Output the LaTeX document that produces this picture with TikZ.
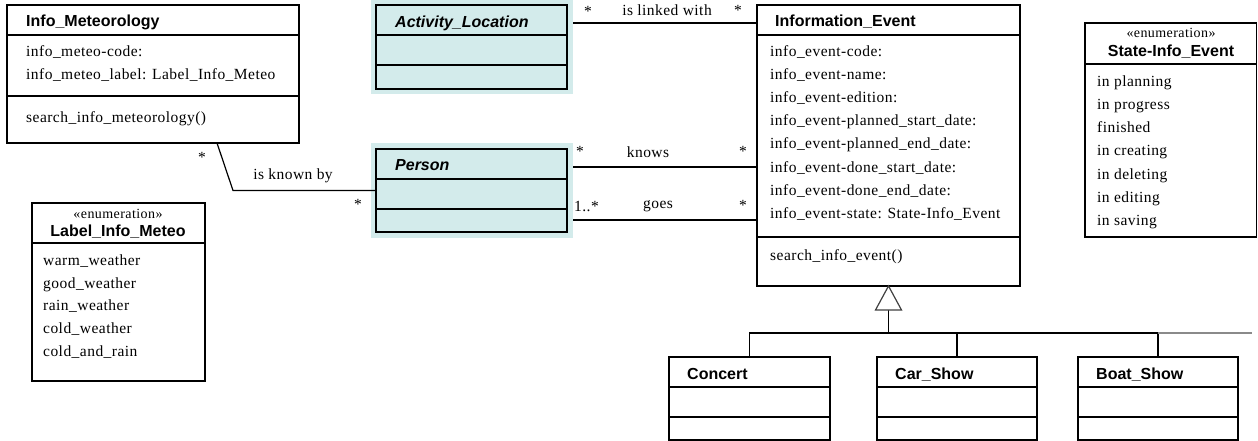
\documentclass[tikz,border=0pt]{standalone}
\usepackage{fontspec}
\setmainfont{Liberation Serif}
\newfontfamily\bodyf[LetterSpace=3]{Liberation Serif}
\newfontfamily\titlef{Liberation Sans}
\usetikzlibrary{calc}
\definecolor{clsbg}{HTML}{D3EBEB}
\definecolor{linegray}{HTML}{8A8A8A}
\tikzset{
  cls/.style={draw, line width=1.2pt, rectangle, anchor=north west, inner sep=0pt, outer sep=0pt},
  bgbox/.style={fill=clsbg, draw=none, rectangle, anchor=north west, inner sep=0pt, outer sep=0pt},
  ttl/.style={anchor=base west, inner sep=0pt, font=\titlef\bfseries\fontsize{16}{18}\selectfont},
  ttlc/.style={anchor=base, inner sep=0pt, font=\titlef\bfseries\fontsize{16}{18}\selectfont},
  ttli/.style={anchor=base west, inner sep=0pt, font=\titlef\bfseries\itshape\fontsize{16}{18}\selectfont},
  attr/.style={anchor=base west, inner sep=0pt, font=\bodyf\fontsize{15.5}{18}\selectfont},
  lbl/.style={inner sep=0pt, font=\bodyf\fontsize{15.5}{18}\selectfont},
  ster/.style={anchor=base, inner sep=0pt, font=\bodyf\fontsize{14}{16}\selectfont},
  divl/.style={line width=1.2pt},
  conn/.style={line width=1.2pt},
}
\begin{document}
\begin{tikzpicture}[x=1pt,y=-1pt]
\useasboundingbox (0,0) rectangle (1258,441);

% ---------- backgrounds of abstract classes
\node[bgbox, minimum width=202pt, minimum height=94pt] (alBg) at (371,0) {};
\node[bgbox, minimum width=202pt, minimum height=95pt] (peBg) at (371,143) {};

% ---------- class boxes
\node[cls, minimum width=292pt, minimum height=138pt] (im) at (7,5) {};
\node[cls, minimum width=191pt, minimum height=84pt] (al) at (376,5) {};
\node[cls, minimum width=191pt, minimum height=83pt] (pe) at (376,149) {};
\node[cls, minimum width=263pt, minimum height=281pt] (ie) at (757,5) {};
\node[cls, minimum width=171.5pt, minimum height=214pt] (se) at (1085,23) {};
\node[cls, minimum width=173pt, minimum height=178pt] (lm) at (32,203) {};
\node[cls, minimum width=161pt, minimum height=83pt] (co) at (669,357) {};
\node[cls, minimum width=160pt, minimum height=83pt] (cs) at (877,357) {};
\node[cls, minimum width=160pt, minimum height=83pt] (bs) at (1078,357) {};

% ---------- compartment dividers
\draw[divl] ($(im.north west)+(0,30)$) -- ($(im.north east)+(0,30)$);
\draw[divl] ($(im.north west)+(0,91)$) -- ($(im.north east)+(0,91)$);
\draw[divl] ($(al.north west)+(0,30)$) -- ($(al.north east)+(0,30)$);
\draw[divl] ($(al.north west)+(0,60)$) -- ($(al.north east)+(0,60)$);
\draw[divl] ($(pe.north west)+(0,30)$) -- ($(pe.north east)+(0,30)$);
\draw[divl] ($(pe.north west)+(0,60)$) -- ($(pe.north east)+(0,60)$);
\draw[divl] ($(ie.north west)+(0,30)$) -- ($(ie.north east)+(0,30)$);
\draw[divl] ($(ie.north west)+(0,232)$) -- ($(ie.north east)+(0,232)$);
\draw[divl] ($(se.north west)+(0,41)$) -- ($(se.north east)+(0,41)$);
\draw[divl] ($(lm.north west)+(0,40)$) -- ($(lm.north east)+(0,40)$);
\foreach \b in {co,cs,bs}{
  \draw[divl] ($(\b.north west)+(0,30)$) -- ($(\b.north east)+(0,30)$);
  \draw[divl] ($(\b.north west)+(0,60)$) -- ($(\b.north east)+(0,60)$);
}

% ---------- class texts
\node[ttl] (imT) at (26,27) {Info\_Meteorology};
\node[attr] (imA1) at (26,57) {info\_meteo-code:};
\node[attr] (imA2) at (26,80) {info\_meteo\_label: Label\_Info\_Meteo};
\node[attr] (imO1) at (26,123) {search\_info\_meteorology()};

\node[ttli] (alT) at (395,28) {Activity\_Location};
\node[ttli] (peT) at (395,171) {Person};

\node[ttl] (ieT) at (775,27) {Information\_Event};
\node[attr] (ieA1) at (770,57) {info\_event-code:};
\node[attr] (ieA2) at (770,80) {info\_event-name:};
\node[attr] (ieA3) at (770,103) {info\_event-edition:};
\node[attr] (ieA4) at (770,126) {info\_event-planned\_start\_date:};
\node[attr] (ieA5) at (770,149) {info\_event-planned\_end\_date:};
\node[attr] (ieA6) at (770,172) {info\_event-done\_start\_date:};
\node[attr] (ieA7) at (770,195) {info\_event-done\_end\_date:};
\node[attr] (ieA8) at (770,218) {info\_event-state: State-Info\_Event};
\node[attr] (ieO1) at (770,260) {search\_info\_event()};

\node[ster] (seS) at (1171,38) {«enumeration»};
\node[ttlc] (seT) at (1171,57) {State-Info\_Event};
\node[attr] (seA1) at (1097,87) {in planning};
\node[attr] (seA2) at (1097,110) {in progress};
\node[attr] (seA3) at (1097,133) {finished};
\node[attr] (seA4) at (1097,156) {in creating};
\node[attr] (seA5) at (1097,179) {in deleting};
\node[attr] (seA6) at (1097,202) {in editing};
\node[attr] (seA7) at (1097,225) {in saving};

\node[ster] (lmS) at (118,218) {«enumeration»};
\node[ttlc] (lmT) at (118,236) {Label\_Info\_Meteo};
\node[attr] (lmA1) at (43,265) {warm\_weather};
\node[attr] (lmA2) at (43,288) {good\_weather};
\node[attr] (lmA3) at (43,310) {rain\_weather};
\node[attr] (lmA4) at (43,333) {cold\_weather};
\node[attr] (lmA5) at (43,356) {cold\_and\_rain};

\node[ttl] (coT) at (687,379) {Concert};
\node[ttl] (csT) at (895,379) {Car\_Show};
\node[ttl] (bsT) at (1096,379) {Boat\_Show};

% ---------- associations
\draw[conn] ($(alBg.north east)+(0,23)$) -- ($(ie.north west)+(0,18)$);
\node[lbl] (l1a) at (588,11) {*};
\node[lbl] (l1b) at (667,10) {is linked with};
\node[lbl] (l1c) at (738,10) {*};

\draw[conn] ($(peBg.north east)+(0,24)$) -- ($(ie.north west)+(0,162)$);
\node[lbl] (l2a) at (580,151) {*};
\node[lbl] (l2b) at (648,152) {knows};
\node[lbl] (l2c) at (743,151) {*};

\draw[conn] ($(peBg.north east)+(0,77)$) -- ($(ie.north west)+(0,215)$);
\node[lbl, anchor=west] (l3a) at (574,206) {1..*};
\node[lbl] (l3b) at (658,206) {goes};
\node[lbl] (l3c) at (743,205) {*};

\coordinate (kb) at (233,190.5);
\draw[conn] ($(im.south west)+(210,0)$) -- (kb) -- (pe.west);
\node[lbl] (l4a) at (202,157) {*};
\node[lbl] (l4b) at (293,176) {is known by};
\node[lbl] (l4c) at (358,204) {*};

% ---------- generalization
\coordinate (hb) at (0,333);
\coordinate (hend) at (1252,333);
\draw[conn] ($(ie.south)+(0,24)$) -- (ie.south |- hb);
\draw[conn] (co.north) -- (co.north |- hb) -- (bs.north |- hb) -- (bs.north);
\draw[conn] (cs.north) -- (cs.north |- hb);
\draw[linegray, line width=1.2pt] (bs.north |- hb) -- (hend);
\draw[line width=1.2pt, draw=black!75, fill=white] (ie.south) -- ++(-13,24) -- ++(26,0) -- cycle;
\end{tikzpicture}
\end{document}
